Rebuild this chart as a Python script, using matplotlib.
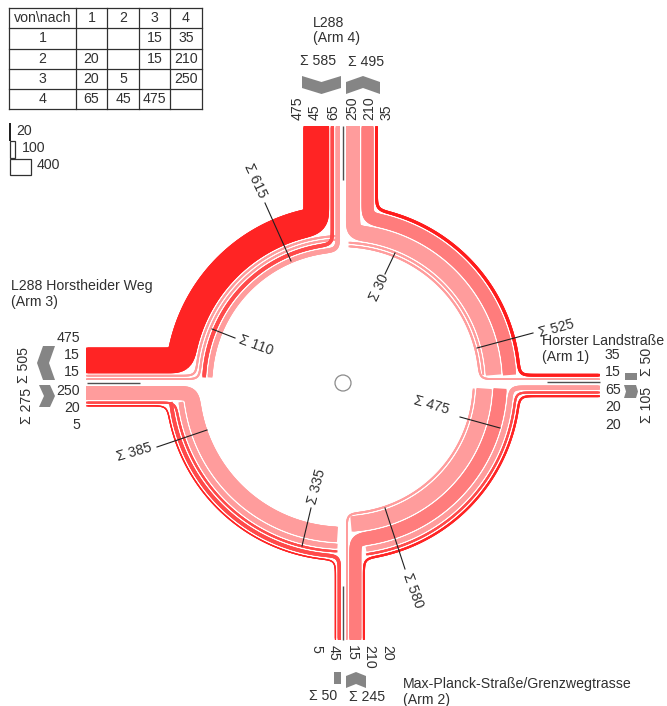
import numpy as np
import matplotlib
matplotlib.use("Agg")
import matplotlib.pyplot as plt
from matplotlib.collections import LineCollection
from matplotlib.patches import Polygon, Rectangle, Circle

plt.rcParams['font.family'] = ['Liberation Sans', 'DejaVu Sans']

# ---------- data ----------
arms = [1, 2, 3, 4]
row_1 = [None, None, 15, 35]
row_2 = [20, None, 15, 210]
row_3 = [20, 5, None, 250]
row_4 = [65, 45, 475, None]
matrix = [row_1, row_2, row_3, row_4]

top_labels = ["475", "45", "65", "250", "210", "35"]
west_labels = ["475", "15", "15", "250", "20", "5"]
east_labels = ["35", "15", "65", "20", "20"]
south_labels = ["5", "45", "15", "210", "20"]
legend_values = [20, 100, 400]

# ring order, outer to inner, per quadrant
quad_UL = [(4, 3), (2, 3), (1, 3), (4, 2), (4, 1)]
quad_LL = [(3, 2), (4, 2), (3, 1), (4, 1), (3, 4)]
quad_LR = [(2, 1), (3, 1), (4, 1), (2, 4), (3, 4), (2, 3)]
quad_UR = [(1, 4), (2, 4), (3, 4), (2, 3), (1, 3)]

# arm stacks from the centreline outwards
in_stack = {4: [(4, 1), (4, 2), (4, 3)], 3: [(3, 4), (3, 1), (3, 2)],
            2: [(2, 3), (2, 4), (2, 1)], 1: [(1, 3), (1, 4)]}
out_stack = {4: [(3, 4), (2, 4), (1, 4)], 3: [(1, 3), (2, 3), (4, 3)],
             2: [(4, 2), (3, 2)], 1: [(4, 1), (3, 1), (2, 1)]}

pale, mid, red, dark = '#FF9C9C', '#FF7C7C', '#FF2424', '#FF4A4A'
flow_colors = {(4, 3): red, (4, 2): dark, (4, 1): pale, (3, 4): pale, (2, 4): mid,
               (1, 4): '#FF1C1C', (1, 3): pale, (2, 3): pale, (3, 2): red,
               (3, 1): dark, (2, 1): red}

# ---------- geometry helpers ----------
W, H = 667, 706
fig = plt.figure(figsize=(W / 100, H / 100), dpi=100)
ax = fig.add_axes([0, 0, 1, 1])
ax.set_xlim(0, W)
ax.set_ylim(H, 0)
ax.axis('off')
CX, CY = 343, 383
ARM_LEN = 257
R_OUT = 178
TXT = '#303030'


def val(f):
    return matrix[f[0] - 1][f[1] - 1]


def warm(v):
    return 1.0 + v * 0.052


def wring(v):
    return 1.0 + v * 0.057


def U(deg):
    a = np.radians(deg)
    return np.array([np.cos(a), -np.sin(a)])


def arm_offsets(stack, start=3.0, gap=1.6):
    out, d = {}, start
    for f in stack:
        w = warm(val(f))
        out[f] = d + w / 2
        d += w + gap
    return out


in_off = {a: arm_offsets(s) for a, s in in_stack.items()}
out_off = {a: arm_offsets(s) for a, s in out_stack.items()}
out_off[1] = arm_offsets(out_stack[1], start=2.5)
out_off[2] = arm_offsets(out_stack[2], start=2.0)


def smooth(a, sigma=6.0):
    n = int(3 * sigma)
    k = np.exp(-0.5 * (np.arange(-n, n + 1) / sigma) ** 2)
    k /= k.sum()
    head = 2 * a[0] - a[1:n + 1][::-1]
    tail = 2 * a[-1] - a[-n - 1:-1][::-1]
    return np.convolve(np.r_[head, a, tail], k, mode='valid')


def draw_strand(f, r, th_a, arm_a, arm_b, g_start, g_end):
    c = np.array([CX, CY], float)
    va, wa, wr = val(f), warm(val(f)), wring(val(f))
    from_arm = f[0] == arm_a
    to_arm = f[1] == arm_b
    d0 = in_off[arm_a][f] if from_arm else g_start
    d1 = out_off[arm_b][f] if to_arm else g_end
    th0 = th_a + np.degrees(np.arcsin(d0 / r))
    th1 = th_a + 90 - np.degrees(np.arcsin(d1 / r))
    arc_n = max(int(r * np.radians(th1 - th0)), 4)
    th = np.linspace(th0, th1, arc_n)
    pts = [c + r * U(t) for t in th]
    flags = [1.0] * arc_n
    if from_arm:
        p = c + ARM_LEN * U(th_a) + d0 * U(th_a + 90)
        n = int(np.linalg.norm(p - pts[0]))
        pts = [p + (pts[0] - p) * s for s in np.linspace(0, 1, n, endpoint=False)] + pts
        flags = [0.0] * n + flags
    if to_arm:
        q = c + ARM_LEN * U(th_a + 90) + d1 * U(th_a)
        n = int(np.linalg.norm(q - pts[-1]))
        end = pts[-1]
        pts = pts + [end + (q - end) * s for s in np.linspace(0, 1, n + 1)[1:]]
        flags = flags + [0.0] * n
    pts = np.array(pts)
    x, y = smooth(pts[:, 0]), smooth(pts[:, 1])
    k = np.exp(-0.5 * (np.arange(-18, 19) / 6.0) ** 2)
    k /= k.sum()
    t = np.convolve(np.pad(flags, 18, mode='edge'), k, mode='valid')
    w = wa + (wr - wa) * t
    segs = [np.c_[x[i:i + 4], y[i:i + 4]] for i in range(len(x) - 3)]
    lc = LineCollection(segs, linewidths=w[:len(segs)] * 0.72, colors=flow_colors[f],
                        capstyle='butt', joinstyle='round', zorder=2 if va > 100 else 3)
    lc.set_snap(False)
    ax.add_collection(lc)


quadrants = [(quad_UL, 90, 4, 3), (quad_LL, 180, 3, 2),
             (quad_LR, 270, 2, 1), (quad_UR, 360, 1, 4)]
start_cuts = {(180, (4, 2)): 19, (180, (4, 1)): 19, (270, (3, 1)): 23, (270, (4, 1)): 23,
              (90, (1, 3)): 3, (90, (2, 3)): 3}
for order, th_a, arm_a, arm_b in quadrants:
    r_edge = R_OUT
    for f in order:
        w = wring(val(f))
        r = r_edge - w / 2
        draw_strand(f, r, th_a, arm_a, arm_b, start_cuts.get((th_a, f), 8), 5.5)
        r_edge -= w + 1.8

# centre circle and arm centrelines
ax.add_patch(Circle((CX, CY), 8, fill=False, ec='#8A8A8A', lw=0.9, zorder=4))
cl = dict(color='#505050', lw=1.0, zorder=4, solid_capstyle='butt')
ax.plot([CX, CX], [126, 180], **cl)
ax.plot([CX, CX], [586, 640], **cl)
ax.plot([87, 140], [CY, CY], **cl)
ax.plot([547, 600], [CY - 1, CY - 1], **cl)


# ---------- gray chevrons ----------
def chevron(x0, x1, y0, y1, direction, notch):
    if direction == 'down':
        m = (x0 + x1) / 2
        p = [(x0, y0), (m, y0 + notch), (x1, y0), (x1, y1 - notch), (m, y1), (x0, y1 - notch)]
    elif direction == 'up':
        m = (x0 + x1) / 2
        p = [(x0, y0 + notch), (m, y0), (x1, y0 + notch), (x1, y1), (m, y1 - notch), (x0, y1)]
    elif direction == 'left':
        m = (y0 + y1) / 2
        p = [(x0 + notch, y0), (x1, y0), (x1 - notch, m), (x1, y1), (x0 + notch, y1), (x0, m)]
    else:
        m = (y0 + y1) / 2
        p = [(x0, y0), (x1 - notch, y0), (x1, m), (x1 - notch, y1), (x0, y1), (x0 + notch, m)]
    ax.add_patch(Polygon(p, closed=True, fc='#858585', ec='none', zorder=3))


chevron(302, 341, 76, 94, 'down', 6)
chevron(346, 380, 76, 94, 'up', 6)
chevron(37, 55, 346, 380, 'left', 6)
chevron(39, 55, 385, 407, 'right', 5)
chevron(625, 637, 373, 380, 'right', 0)
chevron(624, 638, 385, 398, 'right', 2)
chevron(334, 341, 672, 684, 'up', 0)
chevron(346, 366, 672, 688, 'up', 4)

# ---------- text ----------
FS = 10.2
tx = dict(color=TXT, fontsize=FS, zorder=6)


def label(x, y, s, rot=0, ha='center', va='center', **kw):
    ax.text(x, y, s, rotation=rot, ha=ha, va=va, rotation_mode='anchor', **tx, **kw)


for x, s in zip([298, 315, 333, 352, 369, 387], top_labels):
    label(x, 120, s, 90, ha='left')
for y, s in zip([338, 355, 372, 391, 408, 425], west_labels):
    label(80, y, s, ha='right')
for y, s in zip([355, 372, 390, 407, 425], east_labels):
    label(605, y, s, ha='left')
for x, s in zip([316, 334, 352, 369, 387], south_labels):
    label(x, 645, s, -90, ha='left')

label(313, 23, "L288", ha='left')
label(313, 38, "(Arm 4)", ha='left')
label(11, 286, "L288 Horstheider Weg", ha='left')
label(11, 302, "(Arm 3)", ha='left')
label(542, 341, "Horster Landstraße", ha='left')
label(542, 357, "(Arm 1)", ha='left')
label(403, 684, "Max-Planck-Straße/Grenzwegtrasse", ha='left')
label(403, 700, "(Arm 2)", ha='left')

label(318, 61, "Σ 585")
label(366, 62, "Σ 495")
label(24, 365, "Σ 505", 90)
label(27, 406, "Σ 275", 90)
label(647, 362, "Σ 50", 90)
label(647, 405, "Σ 105", 90)
label(323, 696, "Σ 50")
label(367, 697, "Σ 245")

section_sums = [("Σ 615", 255, 181, -65, (265, 203), (291, 261)),
                ("Σ 110", 256, 345, -20, (212, 329), (235, 338)),
                ("Σ 30", 379, 288, 65, (395, 253), (385, 274)),
                ("Σ 525", 556, 328, 15, (477, 348), (533, 333)),
                ("Σ 475", 431, 405, -16, (460, 417), (500, 428)),
                ("Σ 580", 413, 591, -70, (385, 508), (405, 569)),
                ("Σ 335", 317, 487, 75, (311, 508), (302, 546)),
                ("Σ 385", 134, 452, 16, (207, 430), (157, 447))]
for s, x, y, rot, a, b in section_sums:
    label(x, y, s, rot)
    ax.plot([a[0], b[0]], [a[1], b[1]], color='#202020', lw=0.8, zorder=5)

# ---------- table ----------
xs = [9, 76, 107, 139, 170, 202]
ys = [8, 28, 49, 69, 89, 109]
for x in xs:
    ax.plot([x, x], [ys[0], ys[-1]], color='#303030', lw=0.9, zorder=5)
for y in ys:
    ax.plot([xs[0], xs[-1]], [y, y], color='#303030', lw=0.9, zorder=5)
xc = [(a + b) / 2 for a, b in zip(xs[:-1], xs[1:])]
yc = [(a + b) / 2 for a, b in zip(ys[:-1], ys[1:])]
label(xc[0], yc[0], "von\\nach")
for j, a in enumerate(arms):
    label(xc[j + 1], yc[0], str(a))
    label(xc[0], yc[j + 1], str(a))
for i, row in enumerate(matrix):
    for j, v in enumerate(row):
        if v is not None:
            label(xc[j + 1], yc[i + 1], str(v))

# ---------- width legend ----------
ax.add_patch(Rectangle((9, 123), 1.8, 18, fc='#202020', ec='none', zorder=5))
ax.add_patch(Rectangle((10, 141), 5, 17, fc='white', ec='#303030', lw=0.9, zorder=5))
ax.add_patch(Rectangle((9.5, 159), 21.5, 16, fc='white', ec='#303030', lw=0.9, zorder=5))
for x, y, v in zip([16, 22, 37], [131, 148, 165], legend_values):
    label(x, y, str(v), ha='left')

fig.savefig("out.png", dpi=100)
